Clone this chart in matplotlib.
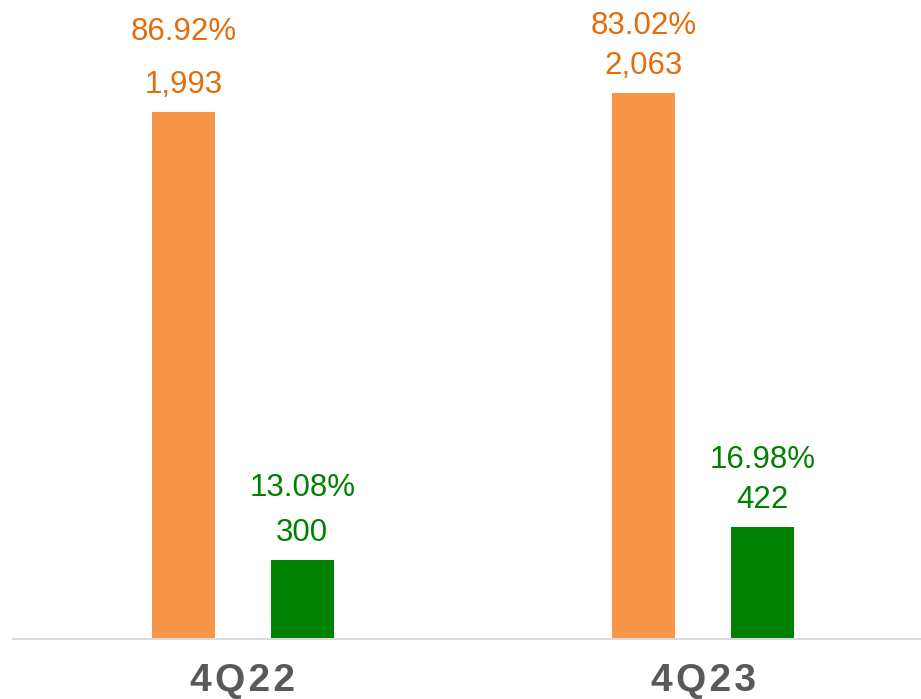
import matplotlib
matplotlib.use('Agg')
import matplotlib.pyplot as plt
import numpy as np

plt.rcParams['font.family'] = ['Liberation Sans', 'DejaVu Sans']

# Data
quarters = ['4Q22', '4Q23']
orange_vals = [1993, 2063]
green_vals = [300, 422]
orange_pct = ['86.92%', '83.02%']
green_pct = ['13.08%', '16.98%']

# Styling
bar_orange = '#F79646'
bar_green = '#008000'
text_orange = '#E46C0A'
text_green = '#008000'
cat_color = '#595959'

fig = plt.figure(figsize=(9.21, 6.99), dpi=100)
ax = fig.add_axes([13 / 921, 60 / 699, 908 / 921, 634.8 / 699])

x = np.arange(len(quarters))
offset = 0.129
width = 0.137

b1 = ax.bar(x - offset, orange_vals, width=width, color=bar_orange)
b2 = ax.bar(x + offset, green_vals, width=width, color=bar_green)

ax.set_xlim(-0.499, 1.473)
ax.set_ylim(0, 2400)

# percentage label gap above value label (points)
pct_gap_orange = [38, 29]
pct_gap_green = [32, 29]

for bars, vals, pcts, col, gaps in [(b1, orange_vals, orange_pct, text_orange, pct_gap_orange),
                                     (b2, green_vals, green_pct, text_green, pct_gap_green)]:
    for rect, v, p, g in zip(bars, vals, pcts, gaps):
        cx = rect.get_x() + rect.get_width() / 2
        ax.annotate(f'{v:,}', (cx, v), xytext=(0, 13.7), textcoords='offset points',
                    ha='center', va='baseline', fontsize=22.5, color=col)
        ax.annotate(p, (cx, v), xytext=(0, 13.7 + g), textcoords='offset points',
                    ha='center', va='baseline', fontsize=22.5, color=col)

# category labels (slightly letter-spaced)
for xi, q in zip(x, quarters):
    ax.text(xi, -52 / 634.8, '\u200a'.join(q), transform=ax.get_xaxis_transform(),
            ha='center', va='baseline', fontsize=28, fontweight='bold',
            color=cat_color)

for s in ['top', 'right', 'left']:
    ax.spines[s].set_visible(False)
ax.spines['bottom'].set_color('#D9D9D9')
ax.spines['bottom'].set_linewidth(1.5)
ax.set_xticks([])
ax.set_yticks([])

fig.savefig('out.png', dpi=100)
